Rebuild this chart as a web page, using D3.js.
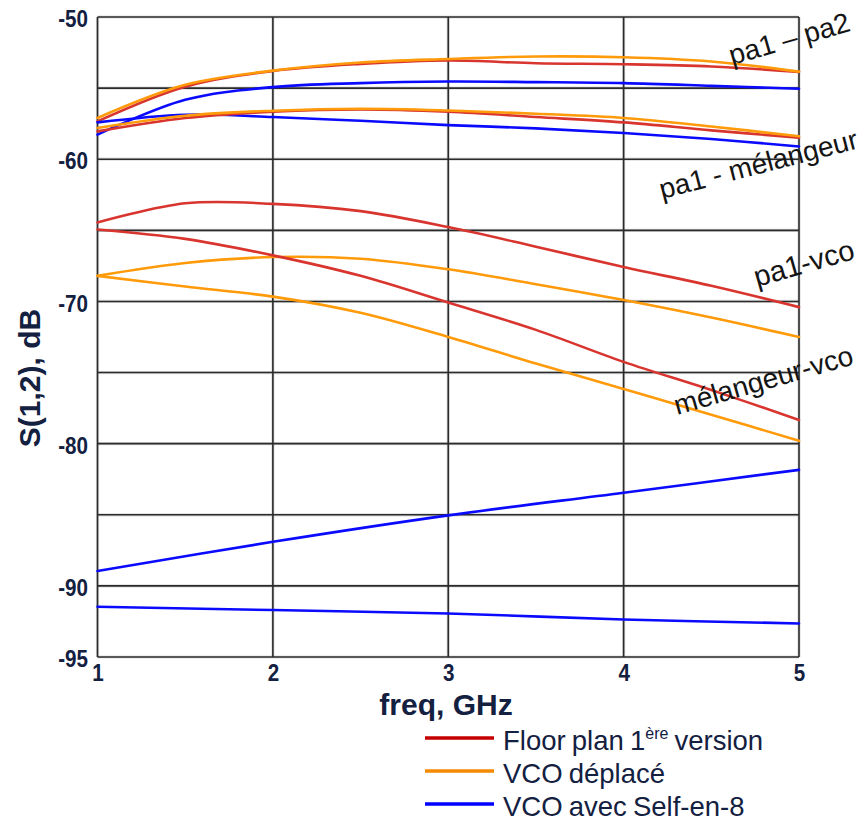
<!DOCTYPE html>
<html>
<head>
<meta charset="utf-8">
<script src="https://cdn.jsdelivr.net/npm/d3@7"></script>
<style>
  html, body { margin: 0; padding: 0; background: #fff; }
  svg { display: block; }
</style>
</head>
<body>
<svg id="chart" width="863" height="822"></svg>
<script>
// ---------- data ----------
const freqFine = [1, 1.5, 2, 2.5, 3, 3.5, 4, 4.5, 5];
const freqCoarse = [1, 2, 3, 4, 5];

// pa1 – pa2
const floorPa1Pa2 = [-57.34, -54.9, -53.8, -53.3, -53.06, -53.25, -53.32, -53.48, -53.86];
const vcoDepPa1Pa2 = [-57.1, -54.77, -53.77, -53.2, -52.95, -52.78, -52.83, -53.13, -53.84];
const selfPa1Pa2 = [-58.27, -55.82, -54.93, -54.65, -54.54, -54.58, -54.65, -54.84, -55.05];
// pa1 - mélangeur
const floorPa1Mel = [-58.04, -57.1, -56.66, -56.5, -56.66, -57.03, -57.41, -57.97, -58.48];
const vcoDepPa1Mel = [-57.8, -56.94, -56.59, -56.45, -56.57, -56.8, -57.1, -57.7, -58.39];
const selfPa1Mel = [-57.41, -56.87, -57.03, -57.3, -57.6, -57.83, -58.16, -58.58, -59.1];
// pa1-vco
const floorPa1Vco = [-64.45, -63.1, -63.14, -63.65, -64.77, -66.15, -67.58, -68.9, -70.4];
const vcoDepPa1Vco = [-68.2, -67.3, -66.88, -67.0, -67.74, -68.79, -69.9, -71.13, -72.5];
// mélangeur-vco
const floorMelVco = [-64.94, -65.6, -66.76, -68.2, -70.08, -72.0, -74.25, -76.23, -78.33];
const vcoDepMelVco = [-68.2, -68.95, -69.66, -70.8, -72.5, -74.37, -76.16, -77.96, -79.8];
// VCO avec Self-en-8 (lower curves)
const selfA = [-88.95, -86.9, -85.04, -83.45, -81.84];
const selfB = [-91.47, -91.7, -91.94, -92.36, -92.64];

const xTicks = [1, 2, 3, 4, 5];
const yTicks = [-50, -55, -60, -65, -70, -75, -80, -85, -90, -95];
const yTickLabels = ["-50", "", "-60", "", "-70", "", "-80", "", "-90", "-95"];

const legendNames = ["Floor plan 1", "VCO déplacé", "VCO avec Self-en-8"];
const annotations = ["pa1 – pa2", "pa1 - mélangeur", "pa1-vco", "mélangeur-vco"];

const colors = { floor: "#d9352f", vco: "#ff9a0a", self: "#0a0aff" };
const legendColors = ["#c40000", "#f58a00", "#0000ff"];

// ---------- build series ----------
const series = [
  { x: freqFine, y: floorPa1Pa2, c: colors.floor },
  { x: freqFine, y: selfPa1Pa2, c: colors.self },
  { x: freqFine, y: vcoDepPa1Pa2, c: colors.vco },
  { x: freqFine, y: selfPa1Mel, c: colors.self },
  { x: freqFine, y: floorPa1Mel, c: colors.floor },
  { x: freqFine, y: vcoDepPa1Mel, c: colors.vco },
  { x: freqFine, y: floorPa1Vco, c: colors.floor },
  { x: freqFine, y: vcoDepPa1Vco, c: colors.vco },
  { x: freqFine, y: floorMelVco, c: colors.floor },
  { x: freqFine, y: vcoDepMelVco, c: colors.vco },
  { x: freqCoarse, y: selfA, c: colors.self },
  { x: freqCoarse, y: selfB, c: colors.self }
];

// ---------- layout ----------
const svg = d3.select("#chart");
const plotL = 97.5, plotR = 799, plotT = 17, plotB = 657;
const x = d3.scaleLinear().domain([1, 5]).range([plotL, plotR]);
const y = d3.scaleLinear().domain([-95, -50]).range([plotB, plotT]);
const navy = "#13203f";
const FONT = "Liberation Sans, Arial, sans-serif";

// grid
const grid = svg.append("g");
function drawGrid(stroke, width, opacity) {
  grid.append("g").selectAll("line").data(yTicks).join("line")
    .attr("x1", plotL).attr("x2", plotR)
    .attr("y1", d => y(d)).attr("y2", d => y(d))
    .attr("stroke", stroke).attr("stroke-width", width).attr("stroke-opacity", opacity);
  grid.append("g").selectAll("line").data(xTicks).join("line")
    .attr("y1", plotT).attr("y2", plotB)
    .attr("x1", d => x(d)).attr("x2", d => x(d))
    .attr("stroke", stroke).attr("stroke-width", width).attr("stroke-opacity", opacity);
}
drawGrid("#bbb", 3.2, 0.5);
drawGrid("#2b2b2b", 1.6, 1);

// axes labels via d3 axes (lines hidden)
const yAxis = svg.append("g").attr("transform", `translate(${plotL},0)`)
  .call(d3.axisLeft(y).tickValues(yTicks).tickSize(0).tickPadding(11)
    .tickFormat((d, i) => yTickLabels[i]));
yAxis.select(".domain").remove();
yAxis.selectAll("text")
  .attr("fill", navy).attr("font-family", FONT)
  .attr("font-weight", "bold").attr("font-size", 24)
  .attr("dy", "0.40em")
  .attr("transform", "scale(0.86,1)");

const xAxis = svg.append("g").attr("transform", `translate(0,${plotB})`)
  .call(d3.axisBottom(x).tickValues(xTicks).tickSize(0).tickPadding(7)
    .tickFormat(d3.format("d")));
xAxis.select(".domain").remove();
xAxis.selectAll("text")
  .attr("fill", navy).attr("font-family", FONT)
  .attr("font-weight", "bold").attr("font-size", 24)
  .attr("transform", "scale(0.86,1)");

// axis titles
svg.append("text")
  .attr("x", 446).attr("y", 715)
  .attr("text-anchor", "middle")
  .attr("fill", navy).attr("font-family", FONT)
  .attr("font-weight", "bold").attr("font-size", 30)
  .text("freq, GHz");
svg.append("text")
  .attr("transform", "translate(40,378) rotate(-90)")
  .attr("text-anchor", "middle")
  .attr("fill", navy).attr("font-family", FONT)
  .attr("font-weight", "bold").attr("font-size", 30)
  .text("S(1,2), dB");

// data lines
const line = d3.line().curve(d3.curveCatmullRom.alpha(0.5));
svg.append("g").selectAll("path").data(series).join("path")
  .attr("d", s => line(s.x.map((v, i) => [x(v), y(s.y[i])])))
  .attr("fill", "none")
  .attr("stroke", s => s.c)
  .attr("stroke-width", 2.6)
  .attr("stroke-linecap", "round");

// annotations
const annPos = [
  { x: 732, y: 65, a: -16, fs: 28 },
  { x: 662, y: 199, a: -14.5, fs: 28 },
  { x: 757, y: 287, a: -16, fs: 29 },
  { x: 677, y: 415, a: -16, fs: 28 }
];
svg.append("g").selectAll("text").data(annotations).join("text")
  .attr("transform", (d, i) => `translate(${annPos[i].x},${annPos[i].y}) rotate(${annPos[i].a})`)
  .attr("font-family", FONT)
  .attr("font-size", (d, i) => annPos[i].fs)
  .attr("fill", "#141414")
  .text(d => d);

// legend
const lg = svg.append("g");
const legY0 = 738, legStep = 33;
legendNames.forEach((name, i) => {
  const ly = legY0 + i * legStep;
  lg.append("line")
    .attr("x1", 425).attr("x2", 494).attr("y1", ly).attr("y2", ly)
    .attr("stroke", legendColors[i]).attr("stroke-width", 3.5);
  const t = lg.append("text")
    .attr("x", 503).attr("y", ly + 11.5)
    .attr("font-family", FONT)
    .attr("font-size", 27.5).attr("fill", navy)
    .style("word-spacing", "-1.5px")
    .text(name);
  if (i === 0) {
    t.append("tspan").attr("font-size", 16).attr("dy", -11).text("ère");
    t.append("tspan").attr("dy", 11).text(" version");
  }
});
</script>
</body>
</html>
